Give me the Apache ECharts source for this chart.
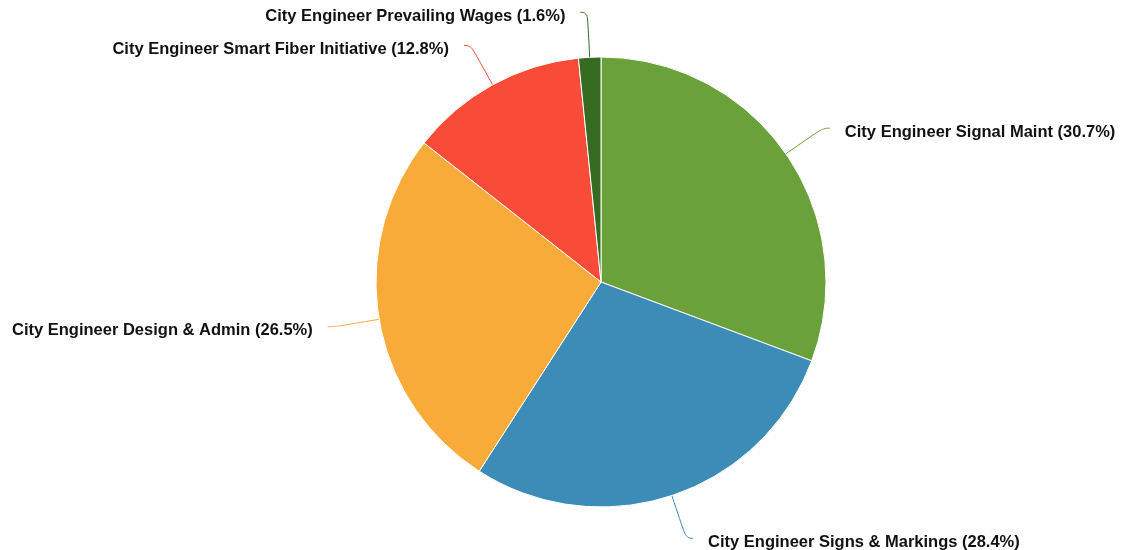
<!DOCTYPE html>
<html><head><meta charset="utf-8">
<script src="https://cdn.jsdelivr.net/npm/echarts@6/dist/echarts.min.js"></script>
<style>html,body{margin:0;padding:0;background:#fff}#c{width:1122px;height:550px}</style>
</head><body><div id="c"></div>
<script>
const categories = ["City Engineer Signal Maint","City Engineer Signs & Markings","City Engineer Design & Admin","City Engineer Smart Fiber Initiative","City Engineer Prevailing Wages"];
const values = [30.7, 28.4, 26.5, 12.8, 1.6];
const colors = ["#6aa13b","#3d8bb7","#f8ab38","#f84b38","#366b22"];
const chart = echarts.init(document.getElementById('c'));
chart.setOption({
  animation:false,
  series:[{
    type:'pie',
    center:[601,282],
    radius:225,
    startAngle:90,
    clockwise:true,
    avoidLabelOverlap:false,
    data:categories.map((n,i)=>({name:n,value:values[i],itemStyle:{color:colors[i]}})),
    itemStyle:{borderColor:'#fff',borderWidth:1},
    label:{
      formatter:p=>'{t|'+p.name+' ('+values[p.dataIndex].toFixed(1)+'%)}',
      distanceToLabelLine:15,
      rich:{t:{fontFamily:'Liberation Sans',fontWeight:'bold',fontSize:16.5,color:'#111',padding:[8,0,0,0]}}
    },
    labelLine:{show:true,smooth:0.5,length:45,length2:7,lineStyle:{width:1}}
  }]
});
</script></body></html>
